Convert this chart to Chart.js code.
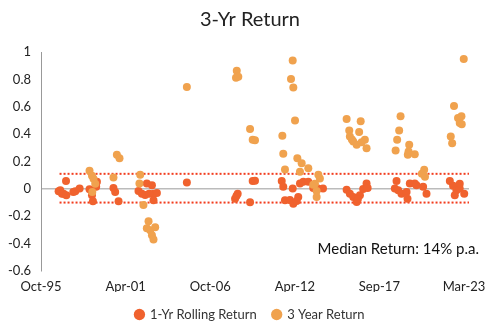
<!DOCTYPE html>
<html>
<head>
<meta charset="utf-8">
<script src="https://cdn.jsdelivr.net/npm/chart.js@4"></script>
<style>
  html, body { margin: 0; padding: 0; background: #fff; }
  #wrap { width: 500px; height: 334px; position: relative; }
</style>
</head>
<body>
<div id="wrap"><canvas id="chart"></canvas></div>
<script>
// x values are decimal years, y values are returns (0.1 = 10%)
const tickYears = [1995.75, 2001.226, 2006.70, 2012.18, 2017.65, 2023.13];
const tickLabels = ['Oct-95', 'Apr-01', 'Oct-06', 'Apr-12', 'Sep-17', 'Mar-23'];

const oneYrX = [1996.89, 1997.0, 1997.11, 1997.21, 1997.37, 1997.39, 1997.84, 1997.97, 1998.25, 1998.89,
  1999.05, 1999.11, 1999.37, 1999.32, 2000.44, 2000.55, 2000.77, 2002.06, 2002.28, 2002.6,
  2002.93, 2003.03, 2003.25, 2003.03, 2002.49, 2002.75, 2005.19, 2008.31, 2008.48, 2008.4,
  2009.28, 2009.45, 2009.6, 2011.33, 2011.43, 2012.04, 2011.54, 2011.86, 2012.08, 2012.4,
  2012.3, 2012.51, 2012.73, 2013.05, 2013.37, 2013.68, 2014.0, 2015.53, 2015.74, 2015.96,
  2016.18, 2016.39, 2016.6, 2016.82, 2016.89, 2016.26, 2018.76, 2018.65, 2018.87, 2019.08,
  2019.41, 2019.47, 2019.62, 2019.94, 2020.05, 2020.48, 2020.7, 2022.21, 2022.42, 2022.64,
  2022.85, 2022.53, 2023.14, 2022.85];
const oneYrY = [-0.017, -0.01, -0.035, -0.035, 0.057, -0.046, -0.022, -0.017, 0.002, -0.002,
  -0.046, -0.09, 0.052, 0.015, 0.007, -0.022, -0.09, -0.015, -0.035, 0.04,
  0.027, -0.035, -0.03, -0.083, -0.044, -0.035, 0.047, -0.072, -0.035, -0.052,
  -0.098, 0.057, 0.059, 0.057, 0.015, 0.002, -0.083, -0.081, -0.108, -0.059,
  -0.088, 0.039, 0.052, 0.052, 0.007, 0.002, 0.002, -0.007, -0.035, -0.059,
  -0.096, -0.046, 0, 0.039, 0.007, -0.074, 0.057, 0.002, -0.01, -0.035,
  -0.022, -0.072, 0.039, 0.039, 0.027, 0.015, -0.035, 0.057, 0.022, -0.01,
  0.002, -0.046, -0.035, 0.037];

const threeYrX = [1998.89, 1999.05, 1999.15, 1999.26, 1999.07, 2000.44, 2000.66, 2000.83, 2002.17, 2002.12,
  2002.38, 2002.71, 2002.6, 2002.82, 2003.14, 2002.93, 2003.03, 2005.19, 2008.42, 2008.37,
  2008.52, 2009.28, 2009.45, 2009.6, 2012.04, 2011.93, 2012.08, 2012.19, 2011.37, 2011.43,
  2011.54, 2012.34, 2012.62, 2013.05, 2012.51, 2013.7, 2013.8, 2013.48, 2013.59, 2013.59,
  2013.37, 2015.53, 2016.44, 2015.7, 2015.74, 2016.34, 2015.96, 2016.18, 2016.71, 2016.82,
  2015.87, 2016.5, 2019.02, 2018.93, 2018.8, 2018.7, 2019.58, 2019.54, 2019.49, 2019.94,
  2020.55, 2020.6, 2020.4, 2022.48, 2022.74, 2022.96, 2022.85, 2022.98, 2022.27, 2022.36,
  2023.11];
const threeYrY = [0.133, 0.096, 0.074, 0.037, -0.022, 0.083, 0.249, 0.223, 0.103, 0.039,
  -0.118, -0.236, -0.288, -0.302, -0.28, -0.339, -0.369, 0.745, 0.863, 0.811,
  0.819, 0.437, 0.359, 0.356, 0.937, 0.802, 0.74, 0.499, 0.389, 0.256,
  0.142, 0.223, 0.187, 0.15, 0.125, 0.103, 0.076, 0.037, -0.015, -0.059,
  0.03, 0.511, 0.494, 0.426, 0.383, 0.415, 0.347, 0.322, 0.359, 0.297,
  0.361, 0.34, 0.531, 0.426, 0.359, 0.28, 0.322, 0.273, 0.249, 0.253,
  0.14, 0.088, 0.111, 0.605, 0.518, 0.531, 0.482, 0.472, 0.383, 0.334,
  0.949];

// band limits drawn as dotted lines
const bandX = [1996.95, 2023.45];
const bandUpper = 0.11;
const bandLower = -0.10;
const medianText = 'Median Return: 14% p.a.';

const toPoints = (xs, ys) => xs.map((x, i) => ({x, y: ys[i]}));
const bandLine = v => ({
  data: bandX.map(x => ({x, y: v})),
  showLine: true,
  borderColor: '#F23C1E',
  borderWidth: 2,
  borderDash: [2, 2],
  pointRadius: 0,
  order: 3
});

// title and legend centred on the full canvas, not on the padded area
const centreBlocks = {
  id: 'centreBlocks',
  afterLayout(chart) {
    [chart.titleBlock, chart.legend].forEach(b => {
      if (!b) return;
      b.left = 0;
      b.right = chart.width;
      b.width = chart.width;
    });
  }
};

const medianLabel = {
  id: 'medianLabel',
  afterDraw(chart) {
    const {ctx, chartArea, scales} = chart;
    ctx.save();
    ctx.font = '15px Lato';
    ctx.fillStyle = '#111';
    ctx.textAlign = 'right';
    ctx.textBaseline = 'middle';
    ctx.fillText(medianText, chartArea.right + 10, scales.y.getPixelForValue(-0.44));
    ctx.restore();
  }
};

new Chart(document.getElementById('chart'), {
  type: 'scatter',
  data: {
    datasets: [
      {label: '1-Yr Rolling Return', data: toPoints(oneYrX, oneYrY), backgroundColor: '#F0622E',
       borderWidth: 0, pointRadius: 4, pointStyle: 'circle', order: 2},
      {label: '3 Year Return', data: toPoints(threeYrX, threeYrY), backgroundColor: '#F0A24E',
       borderWidth: 0, pointRadius: 4, pointStyle: 'circle', order: 1},
      Object.assign({label: 'upper'}, bandLine(bandUpper)),
      Object.assign({label: 'lower'}, bandLine(bandLower))
    ]
  },
  options: {
    responsive: true, maintainAspectRatio: false, animation: false,
    events: [],
    layout: {padding: {left: 0, right: 31, top: 0, bottom: 3}},
    scales: {
      x: {
        type: 'linear', min: 1995.75, max: 2023.45,
        afterBuildTicks: s => { s.ticks = tickYears.map(v => ({value: v})); },
        afterFit: s => { s.height = 21; },
        grid: {display: false, drawTicks: false},
        border: {display: false},
        ticks: {color: '#222', font: {family: 'Lato', size: 13}, padding: 8, maxRotation: 0,
                callback: (v, i) => tickLabels[i]}
      },
      y: {
        min: -0.6, max: 1,
        afterFit: s => { s.width = 41; },
        border: {display: true, color: '#999', width: 1},
        grid: {drawTicks: false, lineWidth: 1.5,
               color: c => c.tick && c.tick.value === 0 ? '#bbb' : 'rgba(0,0,0,0)'},
        ticks: {stepSize: 0.2, color: '#222', font: {family: 'Lato', size: 13}, padding: 10,
                callback: v => String(Math.round(v * 10) / 10)}
      }
    },
    plugins: {
      title: {display: true, text: '3-Yr Return', color: '#222',
              font: {family: 'Lato', size: 20, weight: 'normal'}, padding: {top: 8, bottom: 20}},
      legend: {
        position: 'bottom',
        labels: {
          color: '#333', font: {family: 'Lato', size: 13}, usePointStyle: true,
          boxWidth: 8, boxHeight: 8, padding: 16,
          filter: item => item.datasetIndex < 2,
          sort: (a, b) => a.datasetIndex - b.datasetIndex
        }
      },
      tooltip: {enabled: false}
    }
  },
  plugins: [centreBlocks, medianLabel]
});
</script>
</body>
</html>
